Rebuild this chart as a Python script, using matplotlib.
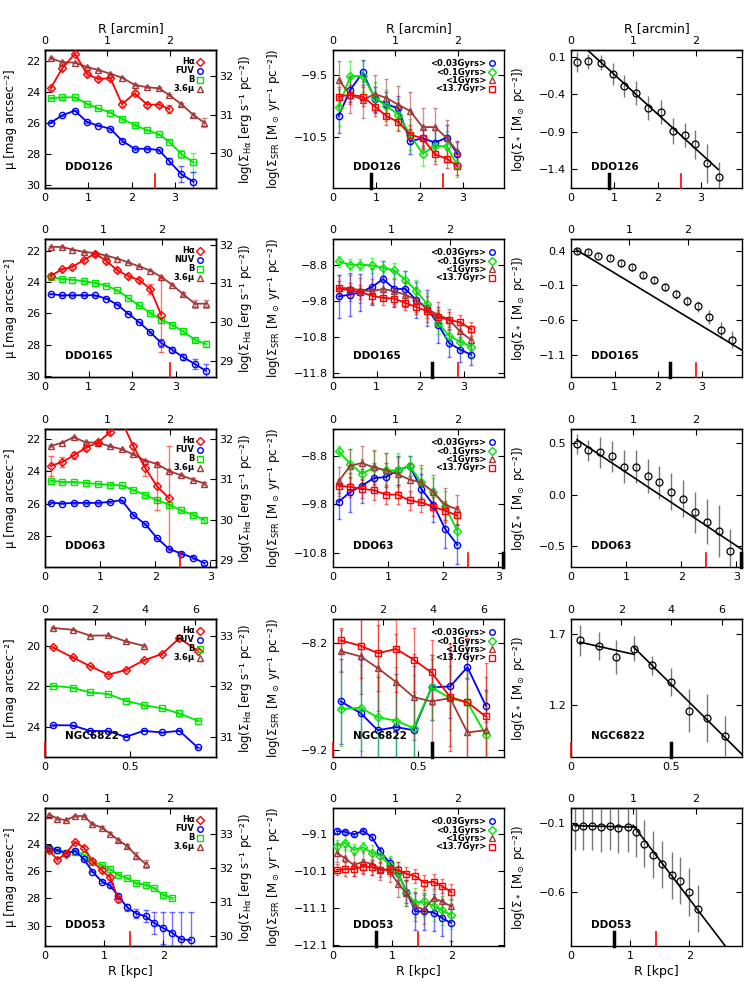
import numpy as np
import matplotlib
matplotlib.use('Agg')
import matplotlib.pyplot as plt
from matplotlib.ticker import FixedLocator, FuncFormatter

plt.rcParams['font.family'] = ['DejaVu Sans']
plt.rcParams['mathtext.fontset'] = 'dejavusans'
plt.rcParams['axes.linewidth'] = 1.0

RED = '#ff0000'
BLUE = '#0000ff'
GREEN = '#00e600'
BROWN = '#a03a3a'

# ---------------- DDO126 ----------------
r_126 = [0.13, 0.40, 0.69, 0.97, 1.23, 1.51, 1.78, 2.07, 2.36, 2.63, 2.87, 3.15, 3.43, 3.68]
mu36_126 = [21.83, 22.09, 22.11, 22.41, 22.58, 22.84, 23.08, 23.55, 23.70, 23.77, 24.20, 24.80, 25.49, 25.99]
mu36_126_err = [0.05, 0.05, 0.05, 0.05, 0.05, 0.05, 0.05, 0.05, 0.06, 0.06, 0.08, 0.1, 0.15, 0.3]
ha_126 = [31.68, 32.20, 32.57, 32.05, 31.92, 31.94, 31.27, 31.55, 31.26, 31.26, 31.14]
ha_126_err = [0.04, 0.05, 0.04, 0.04, 0.04, 0.04, 0.06, 0.05, 0.06, 0.06, 0.1]
muB_126 = [24.41, 24.35, 24.35, 24.78, 25.06, 25.34, 25.75, 26.14, 26.47, 26.74, 27.22, 28.01, 28.55]
muB_126_err = [0.05, 0.05, 0.05, 0.05, 0.05, 0.05, 0.05, 0.05, 0.06, 0.07, 0.1, 0.25, 0.6]
muUV_126 = [25.99, 25.51, 25.21, 25.94, 26.18, 26.38, 27.15, 27.67, 27.67, 27.75, 28.47, 29.31, 29.80]
muUV_126_err = [0.05, 0.05, 0.05, 0.05, 0.05, 0.05, 0.08, 0.06, 0.06, 0.08, 0.2, 0.5, 0.6]
sfr1_126 = [-10.16, -9.74, -9.46, -9.89, -9.97, -10.04, -10.57, -10.52, -10.59, -10.51, -10.77]
sfr2_126 = [-10.02, -9.52, -9.52, -9.87, -10.00, -10.14, -10.46, -10.77, -10.64, -10.65, -10.95]
sfr3_126 = [-9.58, -9.82, -9.90, -9.81, -9.87, -9.98, -10.08, -10.34, -10.34, -10.52, -10.73]
sfr4_126 = [-9.85, -9.82, -9.85, -10.01, -10.16, -10.26, -10.46, -10.52, -10.78, -10.85, -10.96]
sfr1_126_err = [0.28, 0.2, 0.2, 0.2, 0.2, 0.2, 0.2, 0.18, 0.2, 0.2, 0.2]
sfr2_126_err = [0.3, 0.25, 0.25, 0.25, 0.25, 0.25, 0.25, 0.2, 0.25, 0.25, 0.2]
sfr3_126_err = [0.3, 0.3, 0.3, 0.3, 0.3, 0.3, 0.3, 0.3, 0.3, 0.3, 0.15]
sfr4_126_err = [0.15, 0.15, 0.15, 0.15, 0.15, 0.15, 0.15, 0.15, 0.15, 0.15, 0.15]
mass_126 = [0.03, 0.04, 0.02, -0.13, -0.29, -0.39, -0.58, -0.64, -0.89, -0.95, -1.07, -1.32, -1.51]
mass_126_err = [0.13, 0.1, 0.1, 0.15, 0.15, 0.16, 0.16, 0.16, 0.17, 0.16, 0.19, 0.26, 0.2]
fit_126 = [(0.39, -0.527, 0.38, 3.40)]

# ---------------- DDO165 ----------------
r_165 = [0.13, 0.38, 0.63, 0.89, 1.15, 1.41, 1.66, 1.91, 2.16, 2.42, 2.67, 2.92, 3.17, 3.44, 3.69]
mu36_165 = [21.72, 21.72, 21.89, 22.04, 22.11, 22.28, 22.47, 22.71, 22.97, 23.24, 23.65, 24.15, 24.75, 25.37, 25.37]
mu36_165_err = [0.05, 0.05, 0.05, 0.05, 0.05, 0.05, 0.05, 0.05, 0.05, 0.05, 0.05, 0.06, 0.1, 0.25, 0.25]
ha_165 = [31.19, 31.36, 31.43, 31.60, 31.77, 31.58, 31.34, 31.19, 31.09, 30.86, 30.19]
ha_165_err = [0.08, 0.05, 0.05, 0.05, 0.04, 0.05, 0.05, 0.05, 0.06, 0.12, 0.95]
muB_165 = [23.65, 23.78, 23.82, 23.93, 24.04, 24.21, 24.51, 25.00, 25.48, 25.97, 26.40, 26.73, 27.15, 27.69, 27.97]
muB_165_err = [0.15, 0.05, 0.05, 0.05, 0.05, 0.05, 0.05, 0.05, 0.05, 0.06, 0.08, 0.08, 0.1, 0.12, 0.2]
muUV_165 = [24.75, 24.83, 24.83, 24.83, 24.83, 25.05, 25.43, 26.01, 26.55, 27.21, 27.90, 28.33, 28.80, 29.25, 29.68]
muUV_165_err = [0.03, 0.03, 0.03, 0.03, 0.03, 0.03, 0.03, 0.03, 0.03, 0.08, 0.25, 0.15, 0.2, 0.35, 0.45]
sfr1_165 = [-9.68, -9.63, -9.57, -9.42, -9.20, -9.47, -9.47, -9.77, -10.00, -10.46, -10.97, -11.15, -11.29]
sfr2_165 = [-8.71, -8.80, -8.80, -8.82, -8.89, -8.96, -9.22, -9.52, -9.89, -10.42, -10.77, -10.93, -11.07]
sfr3_165 = [-9.45, -9.45, -9.51, -9.54, -9.47, -9.54, -9.63, -9.77, -10.03, -10.19, -10.32, -10.65, -10.88]
sfr4_165 = [-9.46, -9.51, -9.56, -9.66, -9.72, -9.74, -9.86, -9.97, -10.09, -10.26, -10.32, -10.40, -10.58]
sfr1_165_err = [0.6, 0.6, 0.5, 0.5, 0.5, 0.5, 0.5, 0.5, 0.5, 0.5, 0.4, 0.35, 0.3]
sfr2_165_err = [0.15, 0.15, 0.15, 0.2, 0.2, 0.2, 0.25, 0.3, 0.3, 0.3, 0.3, 0.25, 0.25]
sfr3_165_err = [0.35, 0.35, 0.35, 0.35, 0.35, 0.35, 0.35, 0.35, 0.35, 0.35, 0.3, 0.3, 0.3]
sfr4_165_err = [0.2, 0.2, 0.2, 0.2, 0.2, 0.2, 0.2, 0.2, 0.2, 0.2, 0.2, 0.2, 0.2]
mass_165 = [0.40, 0.38, 0.33, 0.30, 0.22, 0.16, 0.05, -0.02, -0.12, -0.23, -0.32, -0.40, -0.55, -0.74, -0.88]
mass_165_err = [0.04, 0.04, 0.04, 0.04, 0.05, 0.05, 0.05, 0.06, 0.06, 0.07, 0.07, 0.08, 0.1, 0.12, 0.12]
fit_165 = [(0.46, -0.38, 0.13, 3.93)]

# ---------------- DDO63 ----------------
r_63 = [0.10, 0.31, 0.52, 0.74, 0.96, 1.17, 1.39, 1.60, 1.82, 2.03, 2.25, 2.47, 2.68, 2.89]
mu36_63 = [22.43, 22.21, 21.87, 22.19, 22.21, 22.43, 22.62, 22.94, 23.33, 23.54, 23.97, 24.25, 24.51, 24.76]
mu36_63_err = [0.05, 0.05, 0.05, 0.05, 0.05, 0.05, 0.05, 0.05, 0.05, 0.05, 0.05, 0.06, 0.07, 0.08]
ha_63 = [31.34, 31.43, 31.60, 31.79, 31.92, 32.17, 32.45, 31.83, 31.28, 30.83, 30.53]
ha_63_err = [0.25, 0.12, 0.08, 0.05, 0.05, 0.05, 0.05, 0.06, 0.2, 0.6, 1.3]
muB_63 = [24.57, 24.66, 24.66, 24.72, 24.78, 24.83, 24.87, 25.15, 25.47, 25.79, 26.07, 26.43, 26.69, 27.03]
muB_63_err = [0.06, 0.05, 0.05, 0.05, 0.05, 0.05, 0.05, 0.05, 0.05, 0.06, 0.07, 0.08, 0.1, 0.15]
muUV_63 = [25.94, 26.00, 25.96, 25.96, 25.96, 25.90, 25.79, 26.71, 27.29, 28.15, 28.83, 29.11, 29.37, 29.71]
muUV_63_err = [0.04, 0.04, 0.04, 0.04, 0.04, 0.04, 0.04, 0.05, 0.05, 0.06, 0.07, 0.08, 0.08, 0.1]
sfr1_63 = [-9.75, -9.55, -9.42, -9.26, -9.24, -9.10, -9.01, -9.48, -9.81, -10.30, -10.63]
sfr2_63 = [-8.71, -8.96, -9.17, -9.05, -9.10, -9.10, -9.01, -9.35, -9.55, -9.83, -10.34]
sfr3_63 = [-9.33, -9.01, -8.95, -9.04, -9.10, -9.18, -9.29, -9.35, -9.55, -9.81, -9.90]
sfr4_63 = [-9.42, -9.44, -9.48, -9.51, -9.60, -9.60, -9.72, -9.76, -9.85, -9.93, -10.03]
sfr1_63_err = [0.35, 0.4, 0.35, 0.3, 0.3, 0.3, 0.2, 0.3, 0.35, 0.4, 0.4]
sfr2_63_err = [0.1, 0.3, 0.3, 0.35, 0.35, 0.35, 0.2, 0.3, 0.3, 0.3, 0.3]
sfr3_63_err = [0.3, 0.35, 0.35, 0.35, 0.35, 0.35, 0.35, 0.35, 0.35, 0.35, 0.3]
sfr4_63_err = [0.15, 0.2, 0.2, 0.2, 0.2, 0.2, 0.2, 0.2, 0.2, 0.2, 0.2]
mass_63 = [0.49, 0.43, 0.41, 0.37, 0.27, 0.27, 0.18, 0.12, 0.03, -0.04, -0.17, -0.26, -0.35, -0.55]
mass_63_err = [0.1, 0.1, 0.15, 0.15, 0.16, 0.16, 0.16, 0.16, 0.18, 0.18, 0.2, 0.22, 0.25, 0.22]
fit_63 = [(0.57, -0.355, 0.11, 3.10)]

# ---------------- NGC6822 ----------------
r_6822 = [0.045, 0.163, 0.265, 0.373, 0.476, 0.582, 0.692, 0.794, 0.902]
mu36_6822 = [19.12, 19.21, 19.50, 19.49, 19.78, 20.00]
mu36_6822_err = [0.03, 0.03, 0.03, 0.03, 0.03, 0.05]
ha_6822 = [32.77, 32.57, 32.40, 32.23, 32.32, 32.51, 32.64, 32.95, 32.70]
ha_6822_err = [0.02, 0.02, 0.02, 0.02, 0.02, 0.02, 0.02, 0.03, 0.03]
muB_6822 = [21.98, 22.07, 22.30, 22.38, 22.71, 22.93, 23.09, 23.34, 23.70]
muB_6822_err = [0.02, 0.02, 0.02, 0.02, 0.02, 0.02, 0.02, 0.02, 0.03]
muUV_6822 = [23.92, 23.93, 24.20, 24.21, 24.50, 24.20, 24.28, 24.20, 25.02]
muUV_6822_err = [0.02, 0.02, 0.02, 0.02, 0.02, 0.02, 0.02, 0.02, 0.03]
sfr1_6822 = [-8.75, -8.86, -9.02, -8.99, -9.02, -8.62, -8.61, -8.43, -8.79]
sfr2_6822 = [-8.82, -8.81, -8.90, -8.93, -9.00, -8.62, -8.72, -8.76, -9.06]
sfr3_6822 = [-8.28, -8.33, -8.44, -8.57, -8.71, -8.75, -8.72, -9.04, -9.02]
sfr4_6822 = [-8.18, -8.23, -8.30, -8.26, -8.36, -8.48, -8.71, -8.76, -8.89]
sfr1_6822_err = [0.4, 0.5, 0.5, 0.5, 0.6, 0.3, 0.3, 0.1, 0.15]
sfr2_6822_err = [0.35, 0.4, 0.4, 0.5, 0.5, 0.3, 0.3, 0.3, 0.4]
sfr3_6822_err = [0.2, 0.35, 0.4, 0.45, 0.4, 0.4, 0.45, 0.5, 0.5]
sfr4_6822_err = [0.12, 0.3, 0.35, 0.4, 0.3, 0.3, 0.5, 0.6, 0.5]
r_mass_6822 = [0.045, 0.14, 0.228, 0.317, 0.408, 0.50, 0.59, 0.682, 0.775]
mass_6822 = [1.66, 1.62, 1.54, 1.60, 1.48, 1.36, 1.16, 1.11, 0.98]
mass_6822_err = [0.11, 0.1, 0.12, 0.09, 0.07, 0.1, 0.15, 0.17, 0.14]
fit_6822 = [(1.66, -0.32, 0.045, 0.317), (2.05, -1.40, 0.317, 0.86)]

# ---------------- DDO53 ----------------
r_53 = [0.07, 0.21, 0.35, 0.51, 0.66, 0.80, 0.96, 1.10, 1.24, 1.39, 1.54, 1.70, 1.84, 1.99, 2.15, 2.30, 2.46]
mu36_53 = [21.83, 22.12, 22.24, 21.93, 21.93, 22.54, 22.78, 23.22, 23.71, 24.15, 24.85, 25.46]
mu36_53_err = [0.08, 0.08, 0.08, 0.06, 0.06, 0.06, 0.08, 0.1, 0.12, 0.15, 0.25, 0.3]
ha_53 = [32.52, 32.25, 32.43, 32.77, 32.60, 32.21, 31.93, 31.73, 31.09]
ha_53_err = [0.05, 0.05, 0.04, 0.04, 0.04, 0.05, 0.06, 0.08, 0.1]
muB_53 = [24.39, 24.44, 24.63, 24.56, 24.80, 25.29, 25.54, 25.85, 26.27, 26.51, 26.88, 27.00, 27.24, 27.73, 27.98]
muB_53_err = [0.05, 0.05, 0.05, 0.05, 0.05, 0.05, 0.05, 0.05, 0.05, 0.05, 0.05, 0.06, 0.07, 0.08, 0.1]
muUV_53 = [24.32, 24.44, 24.68, 24.51, 25.12, 26.02, 26.76, 27.05, 27.85, 28.66, 29.12, 29.32, 29.80, 30.17, 30.54, 31.02, 31.07]
muUV_53_err = [0.05, 0.05, 0.05, 0.05, 0.05, 0.05, 0.1, 0.1, 0.15, 0.25, 0.35, 0.45, 0.8, 1.2, 1.5, 2.0, 2.1]
sfr1_53 = [-9.02, -9.04, -9.11, -9.01, -9.19, -9.56, -9.89, -10.16, -10.66, -11.20, -11.20, -11.23, -11.38, -11.51]
sfr2_53 = [-9.42, -9.33, -9.53, -9.46, -9.60, -9.69, -9.94, -10.16, -10.69, -10.96, -10.93, -11.05, -11.17, -11.29]
sfr3_53 = [-9.62, -9.76, -9.94, -9.85, -9.91, -10.05, -10.10, -10.45, -10.70, -11.06, -11.15, -10.84, -10.93, -11.06]
sfr4_53 = [-10.07, -10.05, -10.05, -9.98, -10.00, -10.07, -10.05, -10.07, -10.18, -10.24, -10.42, -10.39, -10.51, -10.66]
sfr1_53_err = [0.05, 0.05, 0.05, 0.05, 0.08, 0.1, 0.15, 0.2, 0.3, 0.5, 0.5, 0.5, 0.5, 0.5]
sfr2_53_err = [0.15, 0.2, 0.15, 0.15, 0.2, 0.2, 0.25, 0.3, 0.35, 0.4, 0.4, 0.4, 0.4, 0.4]
sfr3_53_err = [0.25, 0.3, 0.3, 0.3, 0.3, 0.3, 0.3, 0.35, 0.35, 0.4, 0.4, 0.4, 0.4, 0.4]
sfr4_53_err = [0.15, 0.2, 0.2, 0.2, 0.2, 0.2, 0.2, 0.2, 0.2, 0.2, 0.2, 0.2, 0.2, 0.2]
mass_53 = [-0.13, -0.12, -0.12, -0.13, -0.12, -0.14, -0.13, -0.17, -0.25, -0.33, -0.40, -0.48, -0.52, -0.60, -0.72]
mass_53_err = [0.17, 0.18, 0.18, 0.18, 0.18, 0.18, 0.18, 0.18, 0.17, 0.17, 0.17, 0.17, 0.17, 0.17, 0.17]
fit_53 = [(-0.12, -0.01, 0.07, 1.10), (0.47, -0.56, 1.05, 2.62)]

# per-row settings
names = ['DDO126', 'DDO165', 'DDO63', 'NGC6822', 'DDO53']
uv_names = ['FUV', 'NUV', 'FUV', 'FUV', 'FUV']
radii = [r_126, r_165, r_63, r_6822, r_53]
mass_radii = [r_126, r_165, r_63, r_mass_6822, r_53]
kpc_per_arcmin = [1.44, 1.34, 1.13, 0.148, 1.053]
kpc_per_arcmin_mass = [1.44, 1.34, 1.13, 0.126, 1.053]
r_max = [3.95, 3.93, 3.10, 1.01, 2.89]
r_max_mass = [3.95, 3.93, 3.10, 0.858, 2.89]
mu_lim = [(30.2, 21.3), (30.09, 21.21), (29.95, 21.36), (25.49, 18.68), (31.51, 21.34)]
ha_ref = [(32, 22.97), (32, 21.57), (32, 22.0), (33, 19.50), (33, 23.27)]
sfr_lim = [(-11.32, -9.10), (-11.91, -8.09), (-11.09, -8.25), (-9.27, -7.98), (-12.14, -8.39)]
mass_lim = [(-1.65, 0.19), (-1.42, 0.57), (-0.70, 0.635), (0.83, 1.81), (-0.99, 0.007)]
mu_ticks = [[22, 24, 26, 28, 30], [22, 24, 26, 28, 30], [22, 24, 26, 28], [20, 22, 24], [22, 24, 26, 28, 30]]
ha_ticks = [[30, 31, 32], [29, 30, 31, 32], [29, 30, 31, 32], [31, 32, 33], [30, 31, 32, 33]]
sfr_ticks = [[-9.5, -10.5], [-8.8, -9.8, -10.8, -11.8], [-8.8, -9.8, -10.8], [-8.2, -9.2], [-9.1, -10.1, -11.1, -12.1]]
mass_ticks = [[0.1, -0.4, -0.9, -1.4], [0.4, -0.1, -0.6, -1.1], [0.5, 0.0, -0.5], [1.7, 1.2], [-0.1, -0.6]]
kpc_ticks = [[0, 1, 2, 3], [0, 1, 2, 3], [0, 1, 2, 3], [0, 0.5], [0, 1, 2]]
arcmin_ticks = [[0, 1, 2], [0, 1, 2], [0, 1, 2], [0, 2, 4, 6], [0, 1, 2]]
r_black = [0.87, 2.27, 3.08, 0.582, 0.72]
r_black_mass = [0.87, 2.27, 3.08, 0.50, 0.72]
r_red = [2.53, 2.87, 2.45, 0.0, 1.44]

mu36 = [mu36_126, mu36_165, mu36_63, mu36_6822, mu36_53]
mu36_err = [mu36_126_err, mu36_165_err, mu36_63_err, mu36_6822_err, mu36_53_err]
ha = [ha_126, ha_165, ha_63, ha_6822, ha_53]
ha_err = [ha_126_err, ha_165_err, ha_63_err, ha_6822_err, ha_53_err]
muB = [muB_126, muB_165, muB_63, muB_6822, muB_53]
muB_err = [muB_126_err, muB_165_err, muB_63_err, muB_6822_err, muB_53_err]
muUV = [muUV_126, muUV_165, muUV_63, muUV_6822, muUV_53]
muUV_err = [muUV_126_err, muUV_165_err, muUV_63_err, muUV_6822_err, muUV_53_err]
sfr = [[sfr1_126, sfr2_126, sfr3_126, sfr4_126],
       [sfr1_165, sfr2_165, sfr3_165, sfr4_165],
       [sfr1_63, sfr2_63, sfr3_63, sfr4_63],
       [sfr1_6822, sfr2_6822, sfr3_6822, sfr4_6822],
       [sfr1_53, sfr2_53, sfr3_53, sfr4_53]]
sfr_err = [[sfr1_126_err, sfr2_126_err, sfr3_126_err, sfr4_126_err],
           [sfr1_165_err, sfr2_165_err, sfr3_165_err, sfr4_165_err],
           [sfr1_63_err, sfr2_63_err, sfr3_63_err, sfr4_63_err],
           [sfr1_6822_err, sfr2_6822_err, sfr3_6822_err, sfr4_6822_err],
           [sfr1_53_err, sfr2_53_err, sfr3_53_err, sfr4_53_err]]
mass = [mass_126, mass_165, mass_63, mass_6822, mass_53]
mass_err = [mass_126_err, mass_165_err, mass_63_err, mass_6822_err, mass_53_err]
fits = [fit_126, fit_165, fit_63, fit_6822, fit_53]

sfr_labels = ['<0.03Gyrs>', '<0.1Gyrs>', '<1Gyrs>', '<13.7Gyr>']
sfr_styles = [(BLUE, 'o'), (GREEN, 'D'), (BROWN, '^'), (RED, 's')]

FIG_W, FIG_H = 747, 997
COL_X = [45, 333, 571]
ROW_Y = [50, 239, 429, 619, 808]
PW, PH = 171, 138
TICK_FS = 8
LAB_FS = 8.5


def fmt1(v, pos):
    return f'{v:.1f}'.replace('-', '\u2212')


def fmtg(v, pos):
    return f'{v:g}'.replace('-', '\u2212')


def new_axes(fig, row, col):
    return fig.add_axes([COL_X[col] / FIG_W, 1 - (ROW_Y[row] + PH) / FIG_H,
                         PW / FIG_W, PH / FIG_H])


def base_style(ax, row, xmax, k, ticks_top):
    ax.set_xlim(0, xmax)
    ax.xaxis.set_major_locator(FixedLocator(kpc_ticks[row]))
    ax.xaxis.set_major_formatter(FuncFormatter(fmtg))
    ax.tick_params(axis='both', direction='in', length=4, width=0.8,
                   labelsize=TICK_FS, top=False)
    sec = ax.secondary_xaxis('top', functions=(lambda r, k=k: r / k, lambda a, k=k: a * k))
    sec.xaxis.set_major_locator(FixedLocator(ticks_top))
    sec.xaxis.set_major_formatter(FuncFormatter(fmtg))
    sec.tick_params(direction='in', length=4, width=0.8, labelsize=TICK_FS, pad=3)
    if row == 0:
        sec.set_xlabel('R [arcmin]', fontsize=9, labelpad=3)
    if row == 4:
        ax.set_xlabel('R [kpc]', fontsize=9, labelpad=3)


def series(ax, x, y, err, color, marker, ms=4.5, capsize=2):
    n = len(y)
    ax.errorbar(x[:n], y, yerr=err, fmt='none', ecolor=color, elinewidth=1.0,
                capsize=capsize, alpha=0.55, zorder=2)
    ax.plot(x[:n], y, '-', color=color, lw=1.3, marker=marker, ms=ms,
            mfc='none', mew=1.0, zorder=3)


def edge_marks(ax, xs, colors, widths):
    for xv, c, w in zip(xs, colors, widths):
        ax.axvline(xv, 0, 0.1, color=c, lw=w, clip_on=False, zorder=5)


def key(ax, labels, styles, xt, xm, ys):
    for lab, (c, m), y in zip(labels, styles, ys):
        ax.text(xt, y, lab, transform=ax.transAxes, ha='right', va='center',
                fontsize=6, fontweight='bold')
        ax.plot([xm], [y], marker=m, color=c, mfc='none', ms=4, mew=1.0,
                transform=ax.transAxes, clip_on=False, zorder=5)


def gal_label(ax, name):
    ax.text(0.115, 0.155, name, transform=ax.transAxes, ha='left', va='center',
            fontsize=7.5, fontweight='bold')


fig = plt.figure(figsize=(FIG_W / 100, FIG_H / 100), dpi=100)

for row in range(5):
    x = radii[row]

    # ---- column 1: surface brightness ----
    ax = new_axes(fig, row, 0)
    base_style(ax, row, r_max[row], kpc_per_arcmin[row], arcmin_ticks[row])
    ax.set_ylim(*mu_lim[row])
    ax.yaxis.set_major_locator(FixedLocator(mu_ticks[row]))
    ax.yaxis.set_major_formatter(FuncFormatter(fmtg))
    ax.tick_params(axis='y', right=False)
    ax.set_ylabel('\u03bc [mag arcsec\u207b\u00b2]', fontsize=LAB_FS)
    ax.yaxis.set_label_coords(-0.165, 0.5)

    ref, mu_ref = ha_ref[row]
    ax2 = ax.twinx()
    ax2.set_ylim(ref + (mu_ref - mu_lim[row][0]) / 2.5, ref + (mu_ref - mu_lim[row][1]) / 2.5)
    ax2.yaxis.set_major_locator(FixedLocator(ha_ticks[row]))
    ax2.yaxis.set_major_formatter(FuncFormatter(fmtg))
    ax2.tick_params(axis='y', direction='in', length=4, width=0.8, labelsize=TICK_FS, pad=2)
    ax2.set_ylabel(r'log($\Sigma_{\rm H\alpha}$ [erg s' + '\u207b\u00b9 pc\u207b\u00b2])',
                   fontsize=LAB_FS)
    ax2.yaxis.set_label_coords(1.12, 0.5)

    series(ax, x, mu36[row], mu36_err[row], BROWN, '^')
    series(ax, x, muB[row], muB_err[row], GREEN, 's')
    series(ax, x, muUV[row], muUV_err[row], BLUE, 'o')
    series(ax2, x, ha[row], ha_err[row], RED, 'D', ms=4)
    edge_marks(ax2, [r_red[row]], [RED], [1.2])
    key(ax2, ['H\u03b1', uv_names[row], 'B', '3.6\u03bc'],
        [(RED, 'D'), (BLUE, 'o'), (GREEN, 's'), (BROWN, '^')],
        0.875, 0.905, [0.915, 0.85, 0.785, 0.72])
    gal_label(ax2, names[row])

    # ---- column 2: SFR surface density ----
    ax = new_axes(fig, row, 1)
    base_style(ax, row, r_max[row], kpc_per_arcmin[row], arcmin_ticks[row])
    ax.tick_params(axis='y', right=True)
    ax.set_ylim(*sfr_lim[row])
    ax.yaxis.set_major_locator(FixedLocator(sfr_ticks[row]))
    ax.yaxis.set_major_formatter(FuncFormatter(fmt1))
    ax.set_ylabel(r'log($\Sigma_{\rm SFR}$ [M$_\odot$ yr' + '\u207b\u00b9 pc\u207b\u00b2])',
                  fontsize=LAB_FS)
    ax.yaxis.set_label_coords(-0.3, 0.5)
    for ys, es, (c, m) in zip(sfr[row], sfr_err[row], sfr_styles):
        series(ax, x, ys, es, c, m, ms=4.5 if m != 'D' else 3.8, capsize=1.5)
    edge_marks(ax, [r_black[row], r_red[row]], ['black', RED], [2.5, 1.2])
    key(ax, sfr_labels, sfr_styles, 0.895, 0.93, [0.905, 0.84, 0.78, 0.72])
    gal_label(ax, names[row])

    # ---- column 3: stellar mass surface density ----
    ax = new_axes(fig, row, 2)
    base_style(ax, row, r_max_mass[row], kpc_per_arcmin_mass[row], arcmin_ticks[row])
    ax.tick_params(axis='y', right=True)
    ax.set_ylim(*mass_lim[row])
    ax.yaxis.set_major_locator(FixedLocator(mass_ticks[row]))
    ax.yaxis.set_major_formatter(FuncFormatter(fmt1))
    ax.set_ylabel(r'log($\Sigma_*$ [M$_\odot$ pc' + '\u207b\u00b2])', fontsize=LAB_FS)
    ax.yaxis.set_label_coords(-0.26, 0.5)
    xm = mass_radii[row][:len(mass[row])]
    ax.errorbar(xm, mass[row], yerr=mass_err[row], fmt='none', ecolor='#555555',
                elinewidth=1.0, alpha=0.8, zorder=2)
    ax.plot(xm, mass[row], 'o', color='black', mfc='none', ms=5, mew=0.9, zorder=3)
    for a, b, lo, hi in fits[row]:
        xs = np.array([lo, hi])
        ax.plot(xs, a + b * xs, '-', color='black', lw=1.2, zorder=4)
    edge_marks(ax, [r_black_mass[row], r_red[row]], ['black', RED], [2.5, 1.2])
    gal_label(ax, names[row])

fig.savefig('out.png', dpi=100)
